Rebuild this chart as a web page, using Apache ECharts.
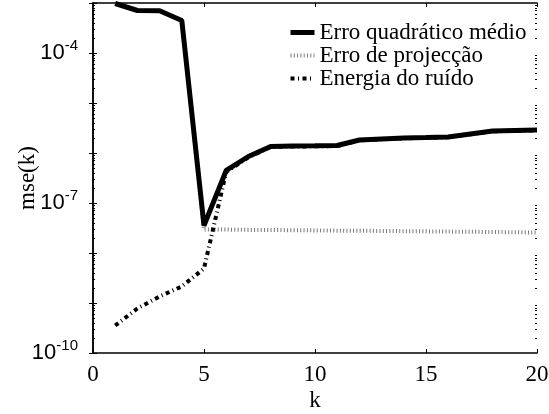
<!DOCTYPE html>
<html>
<head>
<meta charset="utf-8">
<script src="https://cdn.jsdelivr.net/npm/echarts@6/dist/echarts.min.js"></script>
<style>html,body{margin:0;padding:0;background:#fff}#c{width:549px;height:414px}</style>
</head>
<body>
<div id="c"></div>
<script>
var kValues = [1,2,3,4,5,6,7,8,9,10,11,12,13,14,15,16,17,18,19,20];
var mseValues = [9.77e-4,7.08e-4,7.0e-4,4.47e-4,3.55e-8,4.47e-7,8.51e-7,1.35e-6,1.38e-6,1.39e-6,1.41e-6,1.82e-6,1.91e-6,2.0e-6,2.04e-6,2.09e-6,2.40e-6,2.75e-6,2.82e-6,2.88e-6];
var projValues = [9.77e-4,7.08e-4,7.0e-4,4.47e-4,2.95e-8,2.94e-8,2.9e-8,2.88e-8,2.86e-8,2.83e-8,2.8e-8,2.79e-8,2.76e-8,2.73e-8,2.71e-8,2.68e-8,2.66e-8,2.63e-8,2.6e-8,2.57e-8];
var noiseValues = [3.55e-10,7.76e-10,1.35e-9,2.14e-9,4.9e-9,4.18e-7,8.22e-7,1.32e-6,1.35e-6,1.36e-6,1.38e-6,1.79e-6,1.88e-6,1.97e-6,2.01e-6,2.06e-6,2.37e-6,2.72e-6,2.79e-6,2.85e-6];
var seriesNames = ['Erro quadrático médio','Erro de projecção','Energia do ruído'];
var xTicks = [0,5,10,15,20];
var yLabelValues = [1e-10,1e-7,1e-4];

var decadeTicks = [];
for (var e = -10; e <= -3; e++) decadeTicks.push(Math.pow(10, e));
var minorTicks = [];
for (var e2 = -10; e2 < -3; e2++) for (var m = 2; m <= 9; m++) minorTicks.push(m * Math.pow(10, e2));

function pairs(vals){ return kValues.map(function(k,i){ return [k, vals[i]]; }); }

var serif = 'Liberation Serif';
var sans = 'Liberation Sans';

function yAx(pos, show, ticks, len, labels) {
  return {
    type: 'log', logBase: 10, min: 1e-10, max: 1e-3, position: pos,
    axisLine: { show: show, lineStyle: { color: '#000', width: 1.5 } },
    splitLine: { show: false },
    axisTick: { show: true, inside: true, length: len, customValues: ticks, lineStyle: { color: '#000', width: 1 } },
    axisLabel: labels ? {
      show: true, customValues: yLabelValues, margin: 15,
      formatter: function(v){ return '{b|10}{s|' + Math.round(Math.log10(v)) + '}'; },
      rich: {
        b: { fontFamily: sans, fontSize: 22, color: '#000' },
        s: { fontFamily: sans, fontSize: 15, color: '#000', padding: [0,0,15,0] }
      }
    } : { show: false },
    name: labels ? 'mse(k)' : '',
    nameLocation: 'middle', nameGap: 54, nameRotate: 90, nameMoveOverlap: false,
    nameTextStyle: { fontFamily: serif, fontSize: 23, color: '#000' }
  };
}

var chart = echarts.init(document.getElementById('c'), null, { renderer: 'canvas' });
chart.setOption({
  animation: false,
  backgroundColor: '#fff',
  grid: { left: 93, right: 12, top: 3, bottom: 61, containLabel: false, outerBoundsMode: 'none' },
  legend: {
    data: seriesNames,
    orient: 'vertical', left: 283, top: 16,
    itemWidth: 24, itemHeight: 10, itemGap: 0,
    itemStyle: { opacity: 0 },
    lineStyle: { width: 'inherit' },
    textStyle: { fontFamily: serif, fontSize: 23, lineHeight: 23, color: '#000', padding: [0,0,0,0] },
    backgroundColor: 'rgba(255,255,255,0)'
  },
  xAxis: [{
    type: 'value', min: 0, max: 20, interval: 5, position: 'bottom',
    axisLine: { show: true, lineStyle: { color: '#000', width: 1.5 } },
    splitLine: { show: false },
    axisTick: { show: true, inside: true, length: 4, lineStyle: { color: '#000' } },
    axisLabel: { show: true, margin: 10, fontFamily: serif, fontSize: 23, color: '#000', customValues: xTicks },
    name: 'k', nameLocation: 'middle', nameGap: 36, nameMoveOverlap: false,
    nameTextStyle: { fontFamily: serif, fontSize: 23, color: '#000' }
  }, {
    type: 'value', min: 0, max: 20, interval: 5, position: 'top',
    axisLine: { show: true, lineStyle: { color: '#000', width: 1.5 } },
    splitLine: { show: false },
    axisTick: { show: true, inside: true, length: 4, lineStyle: { color: '#000' } },
    axisLabel: { show: false }
  }],
  yAxis: [
    yAx('left', true, decadeTicks, 4, true),
    yAx('right', true, decadeTicks, 4, false),
    yAx('left', false, minorTicks, 2, false),
    yAx('right', false, minorTicks, 2, false)
  ],
  series: [{
    name: seriesNames[1], type: 'line', data: pairs(projValues), symbol: 'none', z: 2,
    lineStyle: { color: '#777', width: 4, type: [1, 2.3] }, itemStyle: { color: '#777' }
  }, {
    name: seriesNames[2], type: 'line', data: pairs(noiseValues), symbol: 'none', z: 3,
    lineStyle: { color: '#000', width: 4, type: [4, 3.5, 1, 3.5] }, itemStyle: { color: '#000' }
  }, {
    name: seriesNames[0], type: 'line', data: pairs(mseValues), symbol: 'none', z: 4,
    lineStyle: { color: '#000', width: 5, type: 'solid' }, itemStyle: { color: '#000' }
  }]
});
</script>
</body>
</html>
